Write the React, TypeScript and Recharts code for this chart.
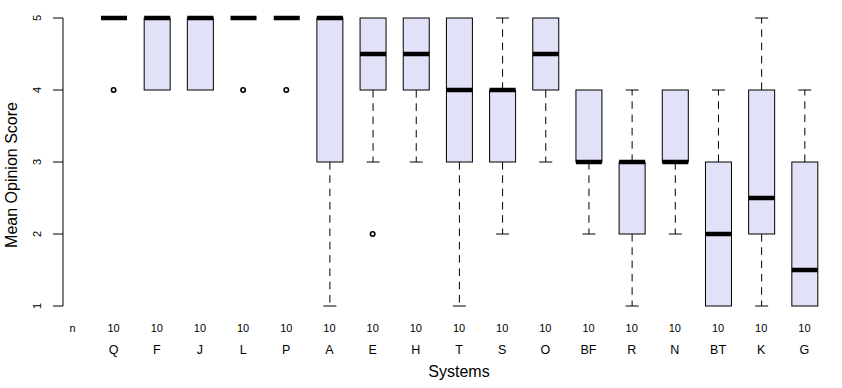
import React from "react";
import { Bar, ComposedChart, Scatter, XAxis, YAxis } from "recharts";

const systems = ["Q", "F", "J", "L", "P", "A", "E", "H", "T", "S", "O", "BF", "R", "N", "BT", "K", "G"];
const lows = [5, 4, 4, 5, 5, 1, 3, 3, 1, 2, 3, 2, 1, 2, 1, 1, 1];
const q1s = [5, 4, 4, 5, 5, 3, 4, 4, 3, 3, 4, 3, 2, 3, 1, 2, 1];
const medians = [5, 5, 5, 5, 5, 5, 4.5, 4.5, 4, 4, 4.5, 3, 3, 3, 2, 2.5, 1.5];
const q3s = [5, 5, 5, 5, 5, 5, 5, 5, 5, 4, 5, 4, 3, 4, 3, 4, 3];
const highs = [5, 5, 5, 5, 5, 5, 5, 5, 5, 5, 5, 4, 4, 4, 4, 5, 4];
const outliers: (number | null)[] = [4, null, null, 4, 4, null, 2, null, null, null, null, null, null, null, null, null, null];
const counts = [10, 10, 10, 10, 10, 10, 10, 10, 10, 10, 10, 10, 10, 10, 10, 10, 10];
const yTicks = [1, 2, 3, 4, 5];

const data = systems.map((sys, i) => ({
  sys,
  low: lows[i],
  q1: q1s[i],
  med: medians[i],
  q3: q3s[i],
  high: highs[i],
  range: [lows[i], highs[i]],
  out: outliers[i],
  n: counts[i],
}));

const FILL = "#e1e1f7";
const FONT = "'Liberation Sans', Arial, Helvetica, sans-serif";

// box + whiskers, positions interpolated from the bar's [low, high] pixels
function BoxShape(props: any) {
  const { x, y, width, height, payload } = props;
  const top = Math.min(y, y + height);
  const bot = Math.max(y, y + height);
  const { low, q1, med, q3, high } = payload;
  const px = (v: number) => (high === low ? top : top + ((high - v) / (high - low)) * (bot - top));
  const cx = x + width / 2;
  const capHalf = width / 4;
  const dash = "7.6 5.7";
  return (
    <g>
      {high > q3 && (
        <g>
          <line x1={cx} x2={cx} y1={px(q3)} y2={px(high)} stroke="#000" strokeDasharray={dash} />
          <line x1={cx - capHalf} x2={cx + capHalf} y1={px(high)} y2={px(high)} stroke="#000" />
        </g>
      )}
      {low < q1 && (
        <g>
          <line x1={cx} x2={cx} y1={px(q1)} y2={px(low)} stroke="#000" strokeDasharray={dash} />
          <line x1={cx - capHalf} x2={cx + capHalf} y1={px(low)} y2={px(low)} stroke="#000" />
        </g>
      )}
      {q3 > q1 && (
        <rect x={x} y={px(q3)} width={width} height={px(q1) - px(q3)} fill={FILL} stroke="#000" strokeWidth={1} />
      )}
      <rect x={x} y={px(med) - 2.25} width={width} height={4.5} fill="#000" />
    </g>
  );
}

function OutlierDot(props: any) {
  const { cx, cy, payload } = props;
  if (payload == null || payload.out == null) return <g />;
  return <circle cx={cx} cy={cy} r={2.2} fill="#fff" stroke="#000" strokeWidth={1.6} />;
}

function XTick(props: any) {
  const { x, y, payload, index } = props;
  return (
    <g fontFamily={FONT} fill="#000">
      {index === 0 && (
        <text x={x - 41} y={y + 26} textAnchor="middle" fontSize={11}>
          n
        </text>
      )}
      <text x={x} y={y + 26} textAnchor="middle" fontSize={11}>
        {counts[index]}
      </text>
      <text x={x} y={y + 48} textAnchor="middle" fontSize={12.5}>
        {payload.value}
      </text>
    </g>
  );
}

function YTick(props: any) {
  const { y, payload } = props;
  const tx = 37;
  return (
    <text
      x={tx}
      y={y}
      transform={`rotate(-90 ${tx} ${y})`}
      textAnchor="middle"
      dominantBaseline="central"
      fontSize={11}
      fontFamily={FONT}
      fill="#000"
    >
      {payload.value}
    </text>
  );
}

function YLabel() {
  const cx = 17;
  const cy = 175;
  return (
    <text
      x={cx}
      y={cy}
      transform={`rotate(-90 ${cx} ${cy})`}
      textAnchor="middle"
      fontSize={16}
      fontFamily={FONT}
      fill="#000"
    >
      Mean Opinion Score
    </text>
  );
}

function XLabel() {
  return (
    <text x={459} y={377} textAnchor="middle" fontSize={16} fontFamily={FONT} fill="#000">
      Systems
    </text>
  );
}

export default function App() {
  return (
    <div style={{ position: "absolute", left: 0, top: 0, width: 842, height: 388, background: "#fff" }}>
      <ComposedChart width={842} height={388} data={data} margin={{ top: 18, right: 16, bottom: 0, left: 0 }}>
        <XAxis
          dataKey="sys"
          axisLine={false}
          tickLine={false}
          tickSize={0}
          tickMargin={0}
          height={82}
          padding={{ left: 29, right: 0 }}
          interval={0}
          tick={<XTick />}
          label={<XLabel />}
        />
        <YAxis
          type="number"
          domain={[1, 5]}
          ticks={yTicks}
          width={63}
          tickSize={10}
          axisLine={{ stroke: "#000" }}
          tickLine={{ stroke: "#000" }}
          tick={<YTick />}
          label={<YLabel />}
        />
        <Bar dataKey="range" barSize={26} shape={<BoxShape />} isAnimationActive={false} />
        <Scatter dataKey="out" shape={<OutlierDot />} isAnimationActive={false} />
      </ComposedChart>
    </div>
  );
}
